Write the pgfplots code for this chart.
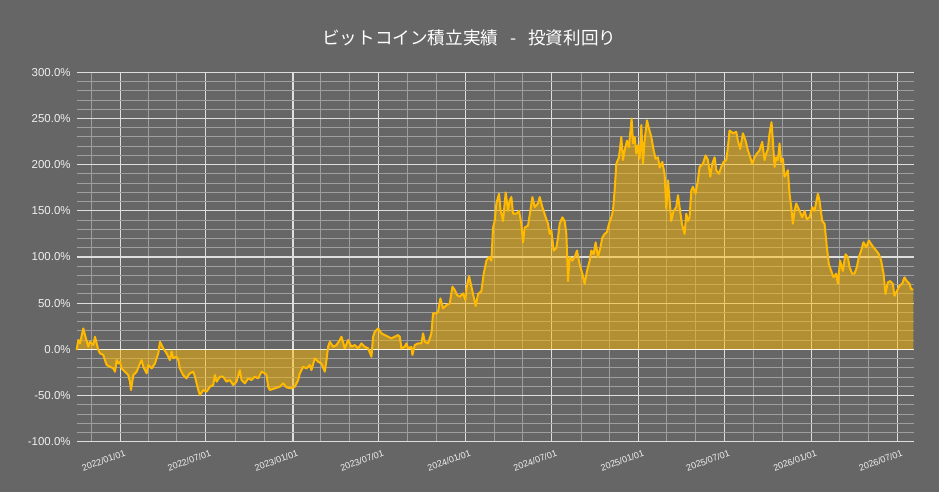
\documentclass[border=0pt]{standalone}
\usepackage{pgfplots}
\pgfplotsset{compat=1.18}
\usepackage{pgfplotstable}
\usepackage{fontspec}
\setmainfont{Liberation Sans}
\newfontfamily\cjk{Noto Sans CJK JP}
\definecolor{bg}{HTML}{666666}
\definecolor{majgrid}{HTML}{DEDEDE}
\definecolor{mingrid}{HTML}{9E9E9E}
\definecolor{gold}{HTML}{FFB900}
\definecolor{txt}{HTML}{F0F0F0}
\pgfplotstableread{
day pct
0 -0.7
3.5 10.1
7 6.5
14 22.7
17.6 15.5
24.6 2.9
28 8.3
31.7 6.5
35.2 4.7
38.7 13.7
42.2 6.5
45.8 -0.7
49.3 -4.3
56.3 -6.1
59.8 -11.6
63.4 -17
70.4 -18.8
77.4 -20.6
81 -24.2
84.5 -11.6
88 -15.2
91.5 -13.4
95 -20.6
102 -24.2
109 -27.8
112.6 -35
114.8 -44
119.7 -27.8
126.7 -24.2
133.8 -15.2
137.3 -11.6
140.8 -18.8
147.8 -26
151.4 -17
158.4 -20.6
165.4 -15.2
172.5 -4.3
176 8.3
183 1.1
190 -4.3
197 -11.6
200.6 -2.5
204 -9.7
211 -7.9
214.7 -11.6
218 -20.6
225 -27.8
232 -31.4
239 -26
246.4 -24.2
250 -29.6
257 -44
260.5 -49.5
267.5 -44
274.6 -45.8
281.6 -40.4
288.6 -38.6
292 -27.8
295.7 -35
302.7 -29.6
309.6 -29.6
316.7 -35
323.7 -33.2
330.8 -38.6
337.8 -35
344.8 -22.4
348.4 -33.2
355.4 -36.8
362.4 -31.4
369.5 -33.2
376.5 -29.6
383.6 -31.4
390.6 -24.2
397.6 -26
401.2 -27.8
404.7 -40.4
408.2 -44
418.8 -42.2
429.3 -40.4
436.4 -36.8
443.4 -41.2
454 -42.2
461 -40.4
468 -33.2
471.6 -26
478.6 -18.8
485.6 -20.6
492.7 -17
496.2 -22.4
503.2 -9.7
510.3 -13.4
517.3 -15.2
524.4 -24.2
527.9 -11.6
531.4 2.9
535 8.3
542 2.9
549 4.7
556 10.1
559.6 13.7
566.6 1.1
573.6 10.1
580.7 2.9
587.7 4.7
594.8 1.1
601.8 6.5
608.8 2.9
615.9 1.1
622.9 -8
626.4 13.7
630 19.1
637 22.7
644 17.3
651 15.5
658 13.7
665 11.9
672.2 13.7
679.2 15.5
682.8 13.7
686.3 1.1
693.3 2.9
696.8 6.5
700.4 1.1
707.4 2.9
709.5 -6.1
714.4 4.7
721.5 6.5
728.5 6.5
732 17.3
735.6 8.3
742.6 6.5
749.6 17.3
753.2 39
760.2 39
763.7 40.8
768.6 55.2
774.3 44.4
781.3 48
788.4 49.8
794 67.9
799 64.3
803.8 58.8
809.5 57
816.5 60.6
821.4 53.4
823.6 66.1
829.2 79.4
837.6 60
843.3 47
848.2 60
855.2 63
860.2 82
865.8 96
871.4 100
876.4 96
879.9 132
883.4 139
886.9 158
892.6 168.5
895.4 152
901 139
906.6 170
911.6 150
915.1 161
918.6 165
922.1 147
929.2 147
934.8 150
939.7 136
943.2 116
946.8 132
953.8 134
958.7 150
963 165
967.9 154
974.9 158
978.4 165
984.1 154
991.1 143
996 136
999.6 125
1003.1 129
1008 107
1013.6 110
1017.2 121
1020.7 136
1026.3 143
1031.2 139
1034.8 125
1038.3 74
1041.8 100
1047.4 96
1052.4 100
1057.3 107
1062.9 92
1068.6 82
1073.5 71
1078.4 85
1084 96
1087.6 107
1092.5 103
1096.7 116
1101.6 100
1106.6 110
1110.8 121
1115.7 125
1120.6 127
1124.9 136
1129.8 143
1133.3 150
1136.8 172
1140.4 201
1146 208
1150.9 230
1154.4 205
1158 215.6
1162.9 226
1167.1 219
1172.7 250
1175.6 223
1179.1 230
1182.6 212
1186.1 221
1189.6 206.5
1193.2 243
1196.7 201
1200.2 226
1205.1 248
1209.4 239
1214.3 230
1219.2 215.6
1223.4 206.5
1228.4 208
1231.9 197
1237.5 203
1242.4 190
1246 152
1249.5 183
1253 161
1256.5 139
1261.4 150
1267.1 154
1270.6 167
1274.1 154
1279 136
1284.7 125
1288.2 147
1291.7 139
1295.2 143
1298.8 172
1302.3 176
1307.9 168.5
1312.8 183
1316.4 197.5
1323.4 201
1329 210
1334 205
1338.9 187
1343.1 201
1348.1 208
1351.6 194
1357.2 190
1362.1 197.5
1367.1 203
1372.7 205
1376.2 219
1379.7 237
1386.8 234
1393.8 235.5
1397.3 226
1402.2 217
1407.9 234
1413.5 226
1418.4 215.6
1423.4 208
1427.6 201
1432.5 208
1437.4 212
1443.1 215.6
1448.7 224.6
1453.6 205
1457.2 212
1460.7 217
1464.2 234
1468.4 246
1471.2 226
1474.8 197.5
1478.3 208
1481.8 205
1485.3 223
1488.8 203
1492.4 206.5
1495.9 187
1499.4 190
1502.9 194
1506.4 168.5
1510 154
1513.5 136
1517 150
1520.5 158
1527.6 150
1533.2 143
1538.1 150
1543 141
1548.7 143
1554.3 154
1559.2 150
1566.3 168.5
1569.8 161
1575.4 139
1580.4 136
1585.3 110.5
1589.5 92
1594.4 85
1599.4 78
1605 82
1608.5 71
1613.4 96
1619.1 85
1624.7 103
1629.6 100
1633.2 89
1638.8 82
1643.7 82
1648.6 89
1652.9 100
1657.8 107
1662.7 116
1668.4 110.5
1674 118
1678.9 114
1683.8 110.5
1689.5 107
1695.1 103
1700 96
1705 82
1709.2 60
1714.1 72.5
1719 74
1724.7 71
1728.2 58
1733.1 63
1738.8 69
1744.4 71
1749.3 78
1754.2 74
1759.9 71
1763.4 65
1768.3 65
}\btc
\begin{document}
\begin{tikzpicture}
\fill[bg] (0,0) rectangle (704.25pt,369pt);
\node[text=white, font={\cjk\fontsize{13.2}{15}\selectfont}] at (352pt,340.5pt) {ビットコイン積立実績\hspace{9pt}-\hspace{9pt}投資利回り};
\begin{axis}[
  at={(57.5pt,37.7pt)}, anchor=south west,
  scale only axis, width=628.2pt, height=277.05pt,
  xmin=0, xmax=1770, ymin=-100, ymax=300,
  axis line style={draw=none},
  major tick length=0pt, minor tick length=0pt,
  xtick={92,273,457,638,822,1004,1188,1369,1553,1734},
  xticklabels={2022/01/01,2022/07/01,2023/01/01,2023/07/01,2024/01/01,2024/07/01,2025/01/01,2025/07/01,2026/01/01,2026/07/01},
  minor xtick={31,151,212,335,396,516,577,700,761,882,943,1066,1127,1247,1308,1431,1492,1612,1673},
  ytick={-100,-50,0,50,100,150,200,250,300},
  yticklabels={-100.0\%,-50.0\%,0.0\%,50.0\%,100.0\%,150.0\%,200.0\%,250.0\%,300.0\%},
  minor y tick num=4,
  grid=both,
  major grid style={majgrid, line width=0.9pt},
  minor grid style={mingrid, line width=0.75pt},
  yticklabel style={text=txt, font=\fontsize{8.6}{10}\selectfont, anchor=east, xshift=-1pt},
  xticklabel style={text=txt, font=\fontsize{6.8}{8}\selectfont, rotate=20, anchor=north east, xshift=4pt, yshift=-3pt},
  clip=false,
]
\addplot[draw=none, fill=gold, fill opacity=0.5] table[x=day,y=pct]{\btc} \closedcycle;
\draw[white!90!gold, line width=0.9pt] (axis cs:0,0) -- (axis cs:1770,0);
\addplot[gold, line width=1.5pt, line join=round] table[x=day,y=pct]{\btc};
\end{axis}
\pgfresetboundingbox
\useasboundingbox (0,0) rectangle (704.25pt,369pt);
\end{tikzpicture}
\end{document}
